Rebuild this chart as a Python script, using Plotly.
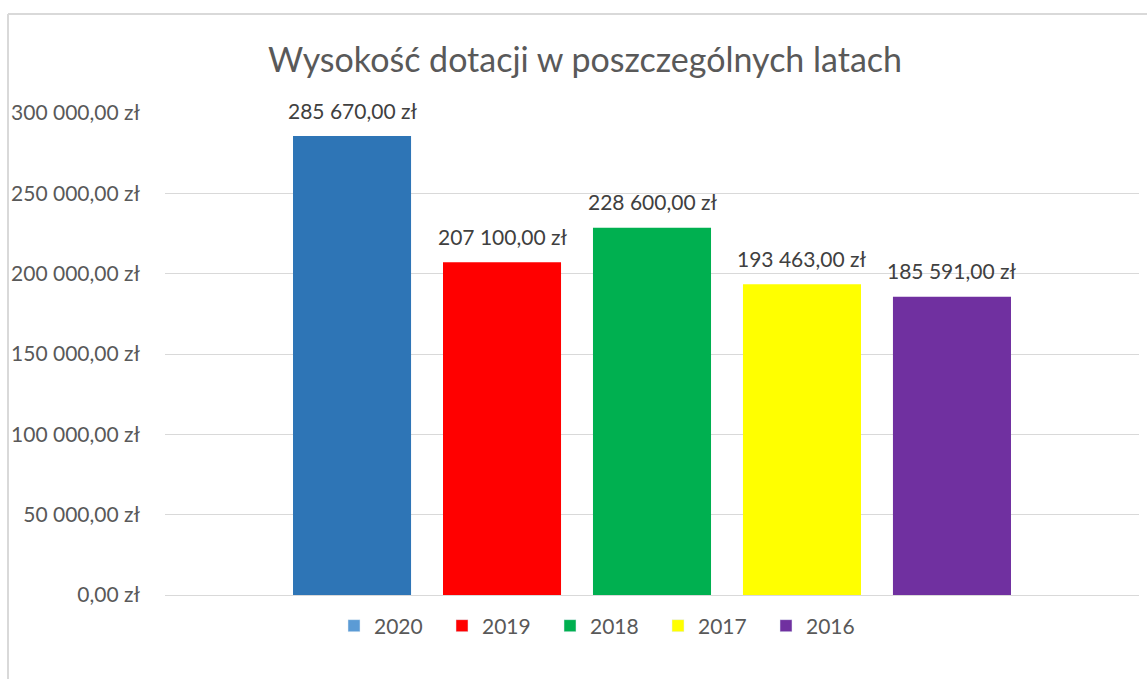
import plotly.graph_objects as go

years = ["2020", "2019", "2018", "2017", "2016"]
values = [285670.00, 207100.00, 228600.00, 193463.00, 185591.00]
bar_colors = ["#2E75B6", "#FF0000", "#00B050", "#FFFF00", "#7030A0"]
legend_colors = ["#5B9BD5", "#FF0000", "#00B050", "#FFFF00", "#7030A0"]
title_text = "Wysokość dotacji w poszczególnych latach"
y_ticks = [0, 50000, 100000, 150000, 200000, 250000, 300000]


def pl_money(v):
    s = f"{v:,.2f}"
    s = s.replace(",", " ").replace(".", ",")
    return s + " zł"


W, H = 1147, 679
ML, MR, MT, MB = 165, 8, 113, 84
FONT = "Lato"

fig = go.Figure()
for i, (yr, v, c) in enumerate(zip(years, values, bar_colors)):
    fig.add_trace(go.Bar(
        x=[i], y=[v], name=yr, marker=dict(color=c, line=dict(width=0)),
        width=0.787, showlegend=False, hoverinfo="skip",
    ))
for yr, c in zip(years, legend_colors):
    fig.add_trace(go.Bar(x=[None], y=[None], name=yr, marker=dict(color=c), showlegend=True))

for i, v in enumerate(values):
    fig.add_annotation(x=i, y=v, text=pl_money(v), showarrow=False, yshift=26,
                       font=dict(family=FONT, size=21, color="#404040"))

pw = W - ML - MR
ph = H - MT - MB
fig.add_shape(type="line", xref="paper", yref="paper",
              x0=(8 - ML) / pw, x1=(8 - ML) / pw, y0=(H - 14 - MB) / ph, y1=-MB / ph - 0.05,
              line=dict(color="#D9D9D9", width=2))
fig.add_shape(type="line", xref="paper", yref="paper",
              x0=(8 - ML) / pw, x1=1 + 20 / pw, y0=(H - 14 - MB) / ph, y1=(H - 14 - MB) / ph,
              line=dict(color="#D9D9D9", width=2))

fig.update_layout(
    width=W, height=H,
    margin=dict(l=ML, r=MR, t=MT, b=MB, autoexpand=False),
    paper_bgcolor="white", plot_bgcolor="white",
    barmode="overlay",
    title=dict(text=title_text, x=585 / W, xanchor="center", xref="container",
               y=1 - 60 / H, yanchor="middle", yref="container",
               font=dict(family=FONT, size=34, color="#595959")),
    xaxis=dict(range=[-1.247, 5.247], showticklabels=False, showgrid=False,
               zeroline=False, showline=False, fixedrange=True),
    yaxis=dict(range=[0, 300000], tickvals=y_ticks, ticktext=[pl_money(t) for t in y_ticks],
               showgrid=True, gridcolor="#D9D9D9", gridwidth=1, zeroline=True,
               zerolinecolor="#D9D9D9", zerolinewidth=1, showline=False,
               ticklabelstandoff=24, automargin=False,
               tickfont=dict(family=FONT, size=21, color="#595959")),
    legend=dict(orientation="h", x=604 / W, xanchor="center", xref="container",
                y=1 - 626 / H, yanchor="middle", yref="container",
                entrywidth=63, entrywidthmode="pixels",
                font=dict(family=FONT, size=21, color="#595959"),
                bgcolor="rgba(0,0,0,0)"),
)

fig.write_html("out.html")
